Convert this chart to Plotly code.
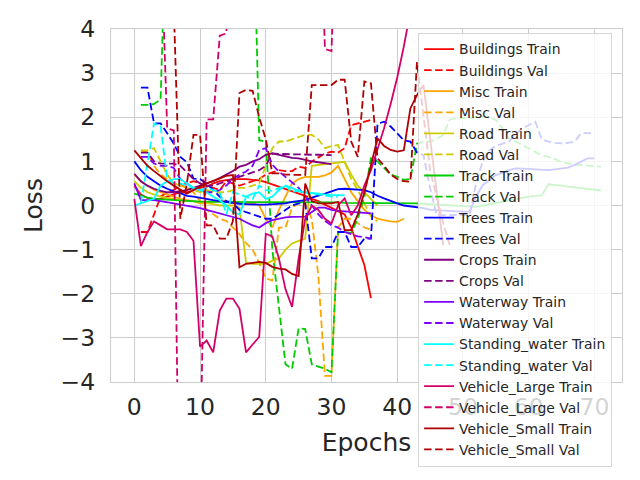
import plotly.graph_objects as go

# loss curves per class, train starts at epoch 0, val at epoch 1
buildings_train = [0.45, 0.25, 0.17, 0.15, 0.15, 0.2, 0.25, 0.3, 0.3, 0.35, 0.4, 0.42, 0.5, 0.55, 0.57, 0.6, 0.6, 0.6, 0.58, 0.57,
                   0.53, 0.48, 0.42, 0.38, 0.33, 0.28, 0.22, 0.15, 0.1, 0.02, -0.05, -0.12, -0.2, -0.5, -0.95, -1.35, -2.1]
buildings_val = [-0.6, -0.6, -0.2, 0.2, 0.3, 0.35, 0.45, 0.5, 0.55, 0.5, 0.45, 0.4, 0.35, 0.55, 0.5, 0.45, 0.5, 0.55, 0.6, 0.7,
                 0.75, 0.8, 0.78, 0.78, 0.88, 0.85, 1.0, 1.1, 1.18, 1.22, 1.2, 1.3, 1.82, 1.86, 1.9, 1.94]

misc_train = [0.7, 0.55, 0.45, 0.35, 0.3, 0.25, 0.2, 0.15, 0.12, 0.1, 0.05, 0.05, 0.08, 0.1, 0.1, 0.08, 0.05, 0.05, 0.05, 0.0,
              -0.3, -0.5, -0.1, 0.2, 0.5, 0.6, 0.65, 0.65, 0.65, 0.68, 0.75, 0.9, 0.6, 0.3, 0.1, -0.1, -0.22, -0.3, -0.33, -0.36,
              -0.37, -0.3]
misc_val = [1.25, 1.2, 0.9, 0.7, 0.6, 0.5, 0.45, 0.4, 0.3, 0.1, -0.1, -0.2, -0.3, -0.35, -0.5, -0.65, -0.85, -1.0, -1.3, -1.65,
            -1.7, -0.5, -0.5, -0.05, 0.05, 0.05, -0.3, -1.6, -3.86, -3.86, -0.5, -0.3, -0.3, -0.4, -0.5, -0.55]

road_train = [0.55, 0.4, 0.3, 0.25, 0.2, 0.17, 0.15, 0.12, 0.1, 0.1, 0.08, 0.05, 0.03, 0.0, 0.0, 0.0, -0.05, -1.3, -1.32, -1.32,
              -1.32, -1.25, -1.2, -1.0, -0.86, -0.8, -0.75, 0.9, 0.92, 0.93, 0.95, 0.97, 0.99, 0.7, 0.45, 0.3, 0.15, 0.0]
road_val = [1.25, 1.25, 1.3, 1.0, 0.7, 0.5, 0.45, 0.4, 0.35, 0.3, 0.35, 0.3, 0.3, 0.3, 0.35, 0.4, 0.4, 0.45, 0.5, 0.9,
            1.3, 1.45, 1.45, 1.5, 1.55, 1.6, 1.6, 1.5, 1.3, 1.35, 1.37, 1.0, 0.6, 0.35, 0.05, -0.25, -0.36]

track_train = [0.27, 0.22, 0.18, 0.15, 0.14, 0.13, 0.12, 0.11, 0.10, 0.10, 0.09, 0.09, 0.08, 0.08, 0.08, 0.08, 0.08, 0.08, 0.08, 0.08,
               0.08, 0.07, 0.07, 0.07, 0.07, 0.07, 0.07, 0.07, 0.07, 0.07, 0.07, 0.07, 0.06, 0.06, 0.06, 0.06, 0.06, 0.06, 0.06, 0.06,
               0.06, 0.06, 0.06, 0.05, 0.04, 0.03, 0.02, 0.01, 0.0, -0.01, -0.02, -0.03, -0.03, 0.0, 0.03, 0.06, 0.09, 0.12, 0.15, 0.18,
               0.2, 0.22, 0.23, 0.48, 0.47, 0.45, 0.43, 0.41, 0.39, 0.37, 0.35, 0.34]
track_val = [2.28, 2.28, 2.3, 2.4, 7.5, 7.5, 7.5, 7.5, 7.5, 7.5, 7.5, 7.5, 7.5, 7.5, 7.5, 7.5, 7.5, 7.5, 1.48, 1.45,
             -1.0, -2.3, -3.6, -3.7, -2.78, -2.8, -3.6, -3.65, -3.7, -3.78, -0.6, -0.6, -0.62, -0.3, 0.2, 1.07, 1.0, 0.85, 0.7, 0.65,
             0.58, 0.6, 1.4, 1.45, 1.45, 1.5, 1.6, 1.95, 1.98, 1.98, 1.98, 2.0, 2.02, 2.0, 1.94, 1.75, 1.52, 1.45, 1.37, 1.3,
             1.22, 1.14, 1.1, 1.05, 0.98, 0.95, 0.93, 0.92, 0.9, 0.89, 0.88]

trees_train = [1.0, 0.8, 0.65, 0.55, 0.45, 0.38, 0.32, 0.28, 0.22, 0.2, 0.17, 0.15, 0.12, 0.1, 0.08, 0.05, 0.04, 0.03, 0.02, 0.02,
               0.02, 0.03, 0.05, 0.05, 0.08, 0.1, 0.12, 0.18, 0.22, 0.27, 0.32, 0.37, 0.38, 0.37, 0.36, 0.35, 0.3, 0.22, 0.16, 0.1,
               0.05, 0.0, -0.02, -0.03, -0.06, -0.1, -0.11, -0.12, -0.12, -0.13, -0.14, -0.14, 0.2, 0.46, 0.58, 0.69, 0.74, 0.8, 0.84, 0.84,
               0.83, 0.82, 0.81, 0.8, 0.82, 0.84, 0.86, 0.92, 1.0, 1.07, 1.07]
trees_val = [2.67, 2.67, 1.86, 1.86, 1.64, 1.4, 1.1, 0.98, 0.61, 0.6, 0.5, 0.35, 0.2, 0.1, 0.05, -0.1, -0.15, -0.2, -0.25, -0.3,
             -0.3, -0.2, -0.1, 0.0, 0.05, 0.05, -1.2, -1.2, -0.94, -0.94, -0.6, -0.6, -0.94, -0.94, -0.75, -0.75, 1.85, 1.9, 1.79, 1.64,
             1.48, 1.45, 1.2, 1.14, 0.4, -0.22, -0.22, -0.22, -0.22, -0.22, -0.22, 0.5, 1.0, 1.25, 1.35, 1.4, 1.45, 1.6, 1.75, 1.82,
             1.9, 1.5, 1.45, 1.42, 1.41, 1.42, 1.45, 1.64, 1.64, 1.64]

crops_train = [0.72, 0.55, 0.45, 0.38, 0.33, 0.3, 0.3, 0.32, 0.35, 0.4, 0.45, 0.5, 0.55, 0.62, 0.7, 0.78, 0.88, 0.92, 1.0, 1.05,
               1.15, 1.18, 1.15, 1.12, 1.08, 1.07, 1.03, 1.0, 0.98, 0.96, 0.94]
crops_val = [1.2, 1.2, 1.0, 0.95, 0.95, 0.95, 0.9, 0.75, 0.6, 0.5, 0.45, 0.45, 0.5, 0.55, 0.6, 0.65, 0.7, 0.75, 0.8, 0.9,
             1.18, 1.17, 1.16, 1.16, 1.16, 1.15, 1.15, 1.15, 1.14, 1.14]

waterway_train = [0.5, 0.12, 0.12, 0.12, 0.1, 0.08, 0.05, 0.02, 0.0, -0.03, -0.06, -0.1, -0.14, -0.18, -0.22, -0.25, -0.3, -0.38, -0.45, -0.5,
                  -0.4, -0.33, -0.3, -0.27, -0.26, -0.26, -0.25, -0.15, -0.05, -0.05, -0.1, -0.12, -0.13, -0.14, -0.15, -0.17, -0.18]
waterway_val = [1.1, 1.1, 0.95, 0.9, 0.9, 0.85, 0.6, 0.5, 0.4, 0.35, 0.3, 0.3, 0.35, 0.45, 0.6, 0.7, 0.77, 0.9, 1.26, 1.3,
                0.92, 0.77, 0.65, 0.54, 0.4, 0.2, 0.0, -0.2, -0.35, -0.45, -0.5, -0.6, -0.65, -0.7, -0.72, -0.75]

standing_water_train = [0.0, 0.05, 0.1, 0.15, 0.45, 0.55, 0.6, 0.6, 0.5, 0.4, 0.35, 0.3, 0.2, 0.12, 0.0, -0.15, -0.2, 0.2, 0.27, 0.3,
                        0.15, 0.2, 0.35, 0.45, 0.4, 0.32, 0.3, 0.28, 0.26, 0.25, 0.24, 0.23, 0.23]
standing_water_val = [0.05, 1.0, 1.86, 1.8, 0.6, 0.5, 0.5, 0.45, 0.4, 0.35, 0.4, 0.35, 0.3, -0.2, 0.3, 0.25, 0.2, 0.15, 0.45, 0.35,
                      0.33, 0.39, 0.46, 0.3, 0.35, 0.3, 0.25, 0.25, 0.22, 0.2, 0.2]

vehicle_large_train = [0.15, -0.92, -0.6, -0.36, -0.45, -0.54, -0.54, -0.54, -0.6, -0.8, -3.2, -3.06, -3.33, -2.38, -2.11, -2.11, -2.34, -3.33, -3.15, -2.98,
                       -0.64, -0.7, -1.2, -1.9, -2.3, -1.2, -0.3, 0.0, -0.1, -0.3, -0.41, 0.0, 0.16, -0.22, 0.0, 0.45, 0.8, 1.25, 1.75, 2.3,
                       2.9, 3.6, 4.4]
vehicle_large_val = [9.0, 9.0, 8.0, 6.3, 1.75, 1.7, -9.0, -9.0, -8.0, -6.0, 1.95, 1.95, 3.85, 3.9, 8.0, 8.0, 8.0, 8.0, 8.0, 8.0,
                     8.0, 8.0, 8.0, 8.0, 8.0, 8.0, 8.0, 8.0, 3.55, 3.5, 8.0, 8.0, 8.0, 8.0, 8.0, 8.0, 8.0, 8.0, 8.0, 8.0]

vehicle_small_train = [1.25, 1.07, 0.9, 0.78, 0.66, 0.55, 0.45, 0.35, 0.27, 0.35, 0.43, 0.5, 0.56, 0.62, 0.67, 0.69, -1.4, -1.32, -1.3, -1.28,
                       -1.3, -1.39, -1.43, -1.45, -1.55, -1.6, 0.5, 0.1, 0.05, 0.05, 0.05, 0.08, -0.56, -0.56, -0.2, 0.3, 0.9, 1.52, 1.35, 1.26,
                       1.22, 1.25, 2.2, 2.5, 2.73, 1.5, 0.3, -0.9]
vehicle_small_val = [9.0, 9.0, 8.0, 8.0, 7.0, 4.5, -0.3, 0.5, 1.6, 1.6, -0.45, -0.45, -0.75, -0.75, -0.35, 2.55, 2.62, 2.6, 2.0, 1.5,
                     0.73, 0.73, 0.7, 0.7, 0.7, 0.69, 2.73, 2.73, 2.73, 2.73, 2.85, 2.85, 1.45, 1.1, 2.81, 2.77, 1.07, 0.9, 0.7, 0.6,
                     0.55, 0.54, 3.25, 2.0, 0.8, 0.2, -0.4, -0.9]

classes = ['Buildings', 'Misc', 'Road', 'Track', 'Trees', 'Crops', 'Waterway', 'Standing_water', 'Vehicle_Large', 'Vehicle_Small']
colors = ['#ff0000', '#ffa500', '#cccc00', '#00cc00', '#0000ff', '#800080', '#7f00ff', '#00ffff', '#d4006a', '#b00000']
train_curves = [buildings_train, misc_train, road_train, track_train, trees_train, crops_train, waterway_train,
                standing_water_train, vehicle_large_train, vehicle_small_train]
val_curves = [buildings_val, misc_val, road_val, track_val, trees_val, crops_val, waterway_val,
              standing_water_val, vehicle_large_val, vehicle_small_val]

fig = go.Figure()

for name, color, train, val in zip(classes, colors, train_curves, val_curves):
    fig.add_trace(go.Scatter(x=list(range(len(train))), y=train, mode='lines', name=name + ' Train',
                             line=dict(color=color, width=1.8)))
    fig.add_trace(go.Scatter(x=list(range(1, len(val) + 1)), y=val, mode='lines', name=name + ' Val',
                             line=dict(color=color, width=1.8, dash='7.5px,3.5px')))

axis_style = dict(showgrid=True, gridcolor='#cccccc', gridwidth=1, zeroline=False,
                  showline=True, mirror=True, linecolor='#cccccc', linewidth=1.25,
                  ticks='', automargin=False,
                  tickfont=dict(family='DejaVu Sans', size=23.5, color='#262626'),
                  title_font=dict(family='DejaVu Sans', size=25, color='#262626'))

fig.update_layout(
    width=640, height=480,
    margin=dict(l=111, r=18, t=29, b=98),
    plot_bgcolor='white', paper_bgcolor='white',
    font=dict(family='DejaVu Sans', color='#262626'),
    xaxis=dict(axis_style, range=[-3.55, 74.2], tickvals=[0, 10, 20, 30, 40, 50, 60, 70],
               title=dict(text='Epochs', standoff=13), ticklabelstandoff=4),
    yaxis=dict(axis_style, range=[-4, 4], tickvals=[-4, -3, -2, -1, 0, 1, 2, 3, 4],
               title=dict(text='Loss', standoff=10), ticklabelstandoff=10),
    legend=dict(x=0.601, y=0.99, xanchor='left', yanchor='top', maxheight=460,
                bgcolor='rgba(255,255,255,0.8)', bordercolor='#d6d6d6', borderwidth=1,
                font=dict(family='DejaVu Sans', size=13.9, color='#262626'),
                tracegroupgap=0),
    showlegend=True,
)

fig.write_html("out.html", config={'displayModeBar': False},
               post_script="document.body.style.margin='0';")
